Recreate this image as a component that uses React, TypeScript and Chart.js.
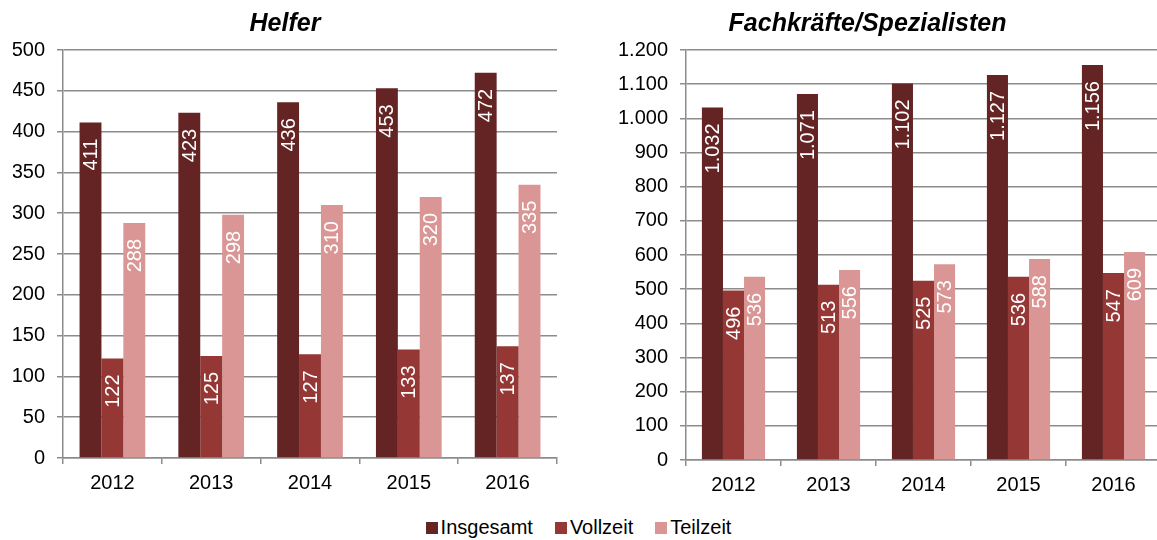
import React, { useEffect, useRef } from "react";
import { Chart, registerables } from "chart.js";

Chart.register(...registerables);

const years = ["2012", "2013", "2014", "2015", "2016"];
const seriesNames = ["Insgesamt", "Vollzeit", "Teilzeit"];
const seriesColors = ["#632423", "#953735", "#D99694"];

const helferInsgesamt = [411, 423, 436, 453, 472];
const helferVollzeit = [122, 125, 127, 133, 137];
const helferTeilzeit = [288, 298, 310, 320, 335];

const fachInsgesamt = [1032, 1071, 1102, 1127, 1156];
const fachVollzeit = [496, 513, 525, 536, 547];
const fachTeilzeit = [536, 556, 573, 588, 609];

const FONT = "'Liberation Sans', Arial, sans-serif";
const GRID = "#8c8c8c";

function fmtDE(v: number): string {
  const s = Math.round(v).toString();
  return s.replace(/\B(?=(\d{3})+(?!\d))/g, ".");
}

const labelPlugin = {
  id: "barLabels",
  afterDatasetsDraw(chart: any) {
    const ctx = chart.ctx;
    chart.data.datasets.forEach((ds: any, di: number) => {
      const meta = chart.getDatasetMeta(di);
      meta.data.forEach((el: any, i: number) => {
        const v = ds.data[i];
        ctx.save();
        ctx.translate(el.x, el.y + 16);
        ctx.rotate(-Math.PI / 2);
        ctx.font = `20px ${FONT}`;
        ctx.fillStyle = "#ffffff";
        ctx.textAlign = "right";
        ctx.textBaseline = "middle";
        ctx.fillText(fmtDE(v), 0, 1);
        ctx.restore();
      });
    });
  },
};

type PanelProps = {
  title: string;
  data: number[][];
  max: number;
  step: number;
  yWidth: number;
  xHeight: number;
  padLeft: number;
  padRight: number;
  width: number;
  left: number;
};

function Panel(p: PanelProps) {
  const ref = useRef<HTMLCanvasElement>(null);
  useEffect(() => {
    if (!ref.current) return;
    const chart = new Chart(ref.current, {
      type: "bar",
      data: {
        labels: years,
        datasets: p.data.map((d, i) => ({
          label: seriesNames[i],
          data: d,
          backgroundColor: seriesColors[i],
          borderWidth: 0,
          barPercentage: 1,
          categoryPercentage: 0.665,
        })),
      },
      options: {
        animation: false,
        responsive: false,
        maintainAspectRatio: false,
        layout: { padding: { left: p.padLeft, right: p.padRight, top: 0, bottom: 0 } },
        plugins: {
          legend: { display: false },
          tooltip: { enabled: false },
          title: {
            display: true,
            text: p.title,
            color: "#000",
            font: { family: FONT, size: 25, weight: "bold", style: "italic", lineHeight: 1.2 },
            padding: { top: 9, bottom: 11 },
          },
        },
        scales: {
          x: {
            offset: true,
            grid: {
              offset: true,
              drawOnChartArea: false,
              drawTicks: true,
              tickLength: 6,
              color: GRID,
              lineWidth: 1.5,
            },
            border: { display: true, color: GRID, width: 1.5 },
            ticks: {
              color: "#000",
              font: { family: FONT, size: 20 },
              padding: 7,
              maxRotation: 0,
            },
            afterFit: (s: any) => {
              s.height = p.xHeight;
            },
          },
          y: {
            min: 0,
            max: p.max,
            ticks: {
              stepSize: p.step,
              color: "#000",
              font: { family: FONT, size: 20 },
              padding: 12,
              callback: (v: any) => fmtDE(Number(v)),
            },
            grid: {
              color: GRID,
              lineWidth: 1.5,
              drawTicks: true,
              tickLength: 6,
            },
            border: { display: true, color: GRID, width: 1.5 },
            afterFit: (s: any) => {
              s.width = p.yWidth;
            },
          },
        },
      },
      plugins: [labelPlugin],
    } as any);
    return () => chart.destroy();
  }, []);
  return (
    <canvas
      ref={ref}
      width={p.width}
      height={505}
      style={{ position: "absolute", left: p.left, top: 0, width: p.width, height: 505 }}
    />
  );
}

export default function App() {
  return (
    <div
      style={{
        position: "fixed",
        left: 0,
        top: 0,
        width: 1157,
        height: 540,
        overflow: "hidden",
        background: "#fff",
        fontFamily: FONT,
      }}
    >
      <Panel
        title="Helfer"
        data={[helferInsgesamt, helferVollzeit, helferTeilzeit]}
        max={500}
        step={50}
        yWidth={50}
        xHeight={47}
        padLeft={13}
        padRight={13}
        width={570}
        left={0}
      />
      <Panel
        title="Fachkräfte/Spezialisten"
        data={[fachInsgesamt, fachVollzeit, fachTeilzeit]}
        max={1200}
        step={100}
        yWidth={112}
        xHeight={45}
        padLeft={0}
        padRight={1}
        width={588}
        left={574}
      />
      <div
        style={{
          position: "absolute",
          left: 0,
          top: 515,
          width: 1157,
          textAlign: "center",
          fontSize: 20,
          lineHeight: "24px",
          color: "#000",
          whiteSpace: "nowrap",
        }}
      >
        {seriesNames.map((n, i) => (
          <span key={n} style={{ marginRight: i < seriesNames.length - 1 ? 22 : 0 }}>
            <span
              style={{
                display: "inline-block",
                width: 12,
                height: 12,
                background: seriesColors[i],
                marginRight: 3,
                verticalAlign: "baseline",
              }}
            />
            {n}
          </span>
        ))}
      </div>
    </div>
  );
}
